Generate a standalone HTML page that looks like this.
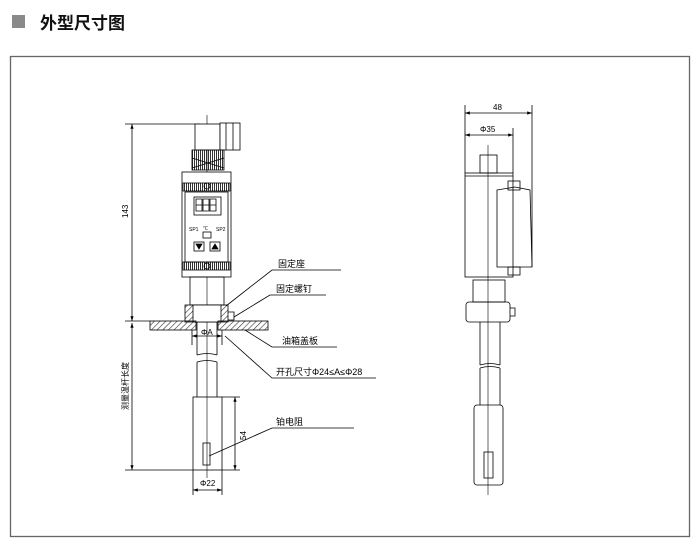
<!DOCTYPE html>
<html><head><meta charset="utf-8"><style>
body{margin:0;background:#fff;width:700px;height:552px;overflow:hidden}
</style></head><body>
<svg width="700" height="552" viewBox="0 0 700 552" xmlns="http://www.w3.org/2000/svg" font-family="Liberation Sans, Noto Sans CJK SC, sans-serif">
<defs>
<pattern id="h" width="4" height="4" patternUnits="userSpaceOnUse" patternTransform="rotate(45)"><line x1="0" y1="0" x2="0" y2="4" stroke="#333" stroke-width="1.2"/></pattern>
<pattern id="k" width="2" height="4" patternUnits="userSpaceOnUse"><rect width="1" height="4" fill="#333"/></pattern>
<marker id="a" markerWidth="6" markerHeight="6" refX="6" refY="3" orient="auto-start-reverse"><path d="M0,1 L6,3 L0,5z" fill="#000"/></marker>
</defs>
<rect x="12" y="15" width="13" height="13" fill="#8a8a8a"/>
<text x="40" y="29" font-size="17" font-weight="bold" fill="#111">外型尺寸图</text>
<rect x="10.5" y="56.5" width="679" height="480" fill="none" stroke="#666" stroke-width="1.3"/>
<g stroke="#000" stroke-width="0.8" fill="none">
<line x1="125" y1="124" x2="200" y2="124"/>
<line x1="132" y1="124" x2="132" y2="321" marker-start="url(#a)" marker-end="url(#a)"/>
<line x1="125" y1="321" x2="150" y2="321"/>
<line x1="132" y1="323" x2="132" y2="470" marker-start="url(#a)" marker-end="url(#a)"/>
<line x1="125" y1="470" x2="193" y2="470"/>
<line x1="207" y1="115" x2="207" y2="478" stroke-width="0.6"/>
<rect x="195" y="124" width="25" height="26" fill="#fff"/>
<rect x="220" y="123" width="20" height="27" fill="#fff"/>
<line x1="226" y1="123" x2="226" y2="150"/><line x1="233" y1="123" x2="233" y2="150"/>
<rect x="192" y="150" width="32" height="20" fill="url(#k)"/>
<path d="M192,158 L224,168 M192,168 L224,158"/>
<rect x="182" y="172" width="49" height="105" fill="#fff"/>
<rect x="183" y="183" width="47" height="8" fill="url(#k)"/>
<rect x="183" y="262" width="47" height="8" fill="url(#k)"/>
<rect x="185" y="192" width="43" height="70"/>
<rect x="194" y="197" width="27" height="18"/>
<path d="M196,199h6v12h-6z M203,199h6v12h-6z M210,199h6v12h-6z M196,205h6 M203,205h6 M210,205h6"/>
<rect x="203" y="232" width="8" height="6"/>
<rect x="194" y="242" width="10" height="9"/><rect x="210" y="242" width="10" height="9"/>
<path d="M196,244 h6 l-3,5z M212,249 h6 l-3,-5z" fill="#000"/>
<circle cx="207" cy="186" r="3"/><circle cx="207" cy="266" r="3"/>
<rect x="190" y="277" width="34" height="28"/>
<rect x="185" y="305" width="43" height="17" fill="url(#h)"/>
<rect x="193" y="305" width="28" height="17" fill="#fff"/>
<path d="M228,312 h6 v8 h-6"/>
<rect x="150" y="321" width="46" height="9" fill="url(#h)"/>
<rect x="218" y="321" width="50" height="9" fill="url(#h)"/>
<line x1="192" y1="330" x2="192" y2="345"/><line x1="222" y1="330" x2="222" y2="345"/>
<line x1="192" y1="336" x2="222" y2="336" marker-start="url(#a)" marker-end="url(#a)"/>
<path d="M197,322 V355 M217,322 V355 M197,355 q10,-3 20,0 M197,362 q10,-3 20,0 M197,362 V397 M217,362 V397"/>
<rect x="193" y="397" width="29" height="73"/>
<rect x="203" y="443" width="7" height="22"/>
<line x1="222" y1="397" x2="240" y2="397"/>
<line x1="235" y1="397" x2="235" y2="470" marker-start="url(#a)" marker-end="url(#a)"/>
<line x1="222" y1="470" x2="240" y2="470"/>
<line x1="193" y1="470" x2="193" y2="495"/><line x1="222" y1="470" x2="222" y2="495"/>
<line x1="193" y1="490" x2="222" y2="490" marker-start="url(#a)" marker-end="url(#a)"/>
<path d="M226,306 L272,270 H341"/>
<path d="M234,317 L270,295 H326"/>
<path d="M245,330 L272,347 H337"/>
<path d="M225,336 L272,378 H376"/>
<path d="M209,456 L272,428 H354"/>
<line x1="488" y1="145" x2="488" y2="495" stroke-width="0.6"/>
<line x1="465" y1="105" x2="465" y2="173"/><line x1="532" y1="105" x2="532" y2="267"/><line x1="513" y1="128" x2="513" y2="173"/>
<line x1="465" y1="113" x2="532" y2="113" marker-start="url(#a)" marker-end="url(#a)"/>
<line x1="465" y1="135" x2="513" y2="135" marker-start="url(#a)" marker-end="url(#a)"/>
<rect x="480" y="155" width="17" height="18"/>
<rect x="465" y="173" width="48" height="104"/>
<line x1="465" y1="176" x2="513" y2="176"/>
<rect x="508" y="181" width="12" height="9"/><rect x="508" y="267" width="12" height="8"/>
<path d="M497,190 L515,187 L530,190 L532,267 L497,267z"/>
<rect x="473" y="280" width="32" height="22"/>
<rect x="466" y="302" width="44" height="20" rx="3"/>
<path d="M510,308h5v8h-5"/>
<path d="M480,322 V365 M500,322 V365 M480,365 q10,-3 20,0 M480,368 q10,-3 20,0 M480,368 V405 M500,368 V405"/>
<rect x="474" y="405" width="29" height="80" rx="3"/>
<rect x="484" y="452" width="9" height="26"/>
</g>
<g font-size="9" fill="#000">
<text x="278" y="267">固定座</text>
<text x="276" y="292">固定螺钉</text>
<text x="282" y="344">油箱盖板</text>
<text x="276" y="375">开孔尺寸Φ24≤A≤Φ28</text>
<text x="276" y="425">铂电阻</text>
<text x="201" y="335" font-size="8">ΦA</text>
<text x="200" y="486" font-size="8">Φ22</text>
<text transform="translate(246,440) rotate(-90)" font-size="8">54</text>
<text transform="translate(128,218) rotate(-90)" font-size="8">143</text>
<text transform="translate(128,410) rotate(-90)" font-size="8">测量温杆长度</text>
<text x="493" y="110" font-size="8">48</text>
<text x="480" y="132" font-size="8">Φ35</text>
<text x="203" y="230" font-size="5">℃</text>
<text x="189" y="231" font-size="5">SP1</text>
<text x="216" y="231" font-size="5">SP2</text>
</g>
</svg>
</body></html>
